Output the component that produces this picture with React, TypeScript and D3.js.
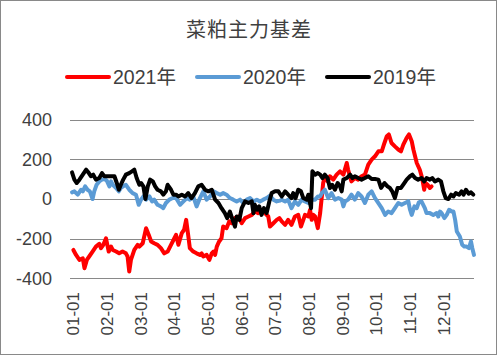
import React from "react";
import * as d3 from "d3";

const W = 497;
const H = 355;

const title = "菜粕主力基差";
const seriesNames = ["2021年", "2020年", "2019年"];
const seriesColors = ["#FF0000", "#5B9BD5", "#000000"];
const monthLabels = ["01-01", "02-01", "03-01", "04-01", "05-01", "06-01", "07-01", "08-01", "09-01", "10-01", "11-01", "12-01"];
const yTicks = [-400, -200, 0, 200, 400];

// [position in months since 01-01, basis value]
const s2021: [number, number][] = [
  [0.10, -257], [0.18, -282], [0.28, -307], [0.38, -299], [0.43, -349], [0.50, -307], [0.57, -290], [0.67, -265],
  [0.77, -240], [0.87, -226], [0.92, -248], [0.99, -231], [1.07, -198], [1.15, -265], [1.22, -240], [1.27, -257],
  [1.37, -265], [1.46, -274], [1.56, -265], [1.66, -274], [1.71, -290], [1.76, -366], [1.81, -307], [1.91, -257],
  [2.01, -231], [2.06, -240], [2.16, -223], [2.26, -147], [2.34, -181], [2.41, -214], [2.50, -223], [2.60, -231],
  [2.70, -248], [2.80, -274], [2.90, -265], [3.00, -231], [3.10, -198], [3.15, -181], [3.22, -231], [3.32, -172],
  [3.39, -155], [3.45, -105], [3.51, -181], [3.56, -248], [3.66, -265], [3.76, -274], [3.86, -282], [3.91, -274],
  [3.96, -290], [4.06, -282], [4.14, -307], [4.21, -274], [4.26, -265], [4.31, -282], [4.36, -240], [4.43, -214],
  [4.50, -198], [4.55, -139], [4.65, -147], [4.73, -113], [4.80, -122], [4.90, -96], [5.00, -88], [5.10, -122],
  [5.20, -96], [5.30, -88], [5.40, -80], [5.49, -63], [5.59, -71], [5.69, -54], [5.79, -71], [5.89, -88],
  [5.94, -139], [6.04, -122], [6.14, -105], [6.22, -96], [6.29, -113], [6.39, -130], [6.48, -105], [6.58, -130],
  [6.68, -88], [6.78, -80], [6.86, -139], [6.93, -105], [6.98, -80], [7.08, -88], [7.13, -54], [7.18, -105],
  [7.23, -80], [7.28, -88], [7.36, -147], [7.43, -71], [7.48, 13], [7.52, 81], [7.57, 115], [7.65, 89],
  [7.72, 115], [7.82, 98], [7.92, 123], [8.02, 140], [8.12, 123], [8.22, 182], [8.26, 148], [8.36, 89],
  [8.46, 106], [8.56, 98], [8.66, 115], [8.76, 123], [8.81, 148], [8.86, 174], [8.96, 199], [9.06, 216],
  [9.16, 241], [9.26, 241], [9.34, 283], [9.41, 317], [9.47, 326], [9.55, 283], [9.65, 266], [9.75, 250],
  [9.83, 241], [9.90, 275], [10.00, 309], [10.07, 326], [10.15, 292], [10.20, 250], [10.30, 182], [10.39, 148],
  [10.46, 106], [10.52, 47], [10.56, 81], [10.62, 72], [10.69, 56], [10.74, 64],
];

const s2020: [number, number][] = [
  [0.06, 34], [0.13, 39], [0.23, 22], [0.33, 47], [0.38, 39], [0.45, 64], [0.52, 47], [0.59, 39],
  [0.67, 0], [0.72, 39], [0.79, 72], [0.87, 89], [0.95, 98], [1.02, 101], [1.09, 94], [1.17, 64],
  [1.22, 89], [1.27, 72], [1.37, 56], [1.45, 39], [1.51, 56], [1.58, 64], [1.66, 72], [1.76, 47],
  [1.86, 30], [1.96, 22], [2.04, -29], [2.11, -3], [2.18, 13], [2.26, -3], [2.36, 13], [2.44, -12],
  [2.50, -3], [2.60, -29], [2.70, -37], [2.77, -46], [2.85, -20], [2.95, -3], [3.05, 5], [3.15, 5],
  [3.27, -29], [3.37, -12], [3.47, 5], [3.56, -3], [3.66, 13], [3.76, -37], [3.86, 5], [3.96, 39],
  [4.06, -3], [4.16, 13], [4.26, 39], [4.36, 30], [4.46, 22], [4.55, 30], [4.65, 22], [4.75, 5],
  [4.85, -3], [4.95, -12], [5.05, -3], [5.15, -20], [5.25, -3], [5.35, 5], [5.45, -12], [5.55, -3],
  [5.64, -12], [5.74, -3], [5.84, 5], [5.94, 17], [6.04, -3], [6.14, -12], [6.24, -8], [6.29, -3],
  [6.39, -12], [6.48, -3], [6.58, -46], [6.68, -12], [6.78, -29], [6.88, -3], [6.98, -12], [7.08, -20],
  [7.13, 5], [7.18, -3], [7.28, -3], [7.36, 13], [7.43, 13], [7.48, 30], [7.57, 47], [7.67, 5],
  [7.77, 30], [7.87, -3], [7.97, 5], [8.07, -3], [8.12, -37], [8.17, -12], [8.26, -3], [8.36, 22],
  [8.46, -3], [8.56, 30], [8.66, 13], [8.76, -20], [8.86, 22], [8.96, 39], [9.06, 5], [9.16, -20],
  [9.26, -46], [9.36, -80], [9.45, -63], [9.55, -71], [9.65, -46], [9.75, -20], [9.85, -29], [9.95, -20],
  [10.05, -12], [10.10, -54], [10.15, -80], [10.23, -37], [10.30, -46], [10.36, -17], [10.44, -12], [10.54, -46],
  [10.59, -71], [10.69, -71], [10.79, -80], [10.89, -71], [10.94, -88], [10.99, -63], [11.04, -71], [11.12, -96],
  [11.19, -80], [11.26, -54], [11.34, -63], [11.39, -63], [11.44, -105], [11.49, -164], [11.58, -189], [11.65, -231],
  [11.71, -240], [11.78, -240], [11.85, -248], [11.91, -214], [11.95, -248], [12.00, -282],
];

const s2019: [number, number][] = [
  [0.06, 135], [0.13, 98], [0.20, 81], [0.28, 98], [0.38, 123], [0.48, 148], [0.56, 131], [0.62, 115],
  [0.69, 123], [0.77, 98], [0.87, 106], [0.95, 131], [1.02, 115], [1.12, 115], [1.22, 115], [1.32, 115],
  [1.39, 81], [1.45, 47], [1.51, 72], [1.58, 98], [1.66, 123], [1.76, 131], [1.84, 140], [1.91, 148],
  [1.98, 106], [2.06, 72], [2.11, 81], [2.18, 64], [2.24, 0], [2.31, 64], [2.38, 98], [2.46, 89],
  [2.53, 64], [2.60, 47], [2.70, 39], [2.77, 22], [2.85, 39], [2.90, 72], [3.00, 47], [3.07, 22],
  [3.15, 22], [3.22, 13], [3.32, 22], [3.42, 13], [3.51, 30], [3.61, 5], [3.71, 30], [3.81, 64],
  [3.91, 72], [4.01, 47], [4.11, 39], [4.21, 47], [4.31, -3], [4.41, -20], [4.50, -46], [4.60, -71],
  [4.67, -96], [4.75, -63], [4.83, -105], [4.90, -139], [4.95, -88], [5.03, -105], [5.10, -46], [5.20, -12],
  [5.30, -20], [5.40, -12], [5.45, -71], [5.49, -29], [5.56, -54], [5.62, -37], [5.69, -80], [5.76, -46],
  [5.84, -71], [5.92, -12], [5.99, 30], [6.09, 39], [6.19, 39], [6.29, 13], [6.39, 39], [6.48, 22],
  [6.58, 5], [6.63, 30], [6.70, 5], [6.78, 47], [6.86, 39], [6.93, 5], [7.03, -3], [7.08, 22],
  [7.16, -46], [7.20, 140], [7.28, 123], [7.36, 131], [7.43, 123], [7.50, 106], [7.57, 123], [7.65, 106],
  [7.72, 56], [7.79, 72], [7.87, 47], [7.95, 81], [8.02, 64], [8.07, 39], [8.12, 98], [8.22, 106],
  [8.32, 123], [8.39, 106], [8.46, 115], [8.56, 106], [8.66, 98], [8.76, 106], [8.86, 115], [8.96, 101],
  [9.06, 101], [9.16, 98], [9.24, 56], [9.34, 81], [9.43, 64], [9.50, 56], [9.57, 39], [9.65, 5],
  [9.73, 56], [9.83, 56], [9.93, 81], [10.00, 98], [10.10, 115], [10.17, 123], [10.25, 106], [10.34, 98],
  [10.44, 106], [10.52, 89], [10.59, 106], [10.69, 98], [10.76, 106], [10.84, 89], [10.94, 98], [11.02, 89],
  [11.09, 39], [11.16, 5], [11.24, 0], [11.32, 22], [11.39, 13], [11.46, 30], [11.56, 22], [11.63, 39],
  [11.69, 22], [11.76, 47], [11.84, 27], [11.91, 34], [11.98, 22],
];

const allSeries = [s2021, s2020, s2019];

const FONT = "'Liberation Sans', 'Noto Sans CJK SC', sans-serif";

export default function App() {
  const x = d3.scaleLinear().domain([0, 12]).range([70, 474]);
  const y = d3.scaleLinear().domain([-400, 400]).range([278.3, 119.8]);
  const line = d3
    .line<[number, number]>()
    .x((d) => x(d[0]))
    .y((d) => y(d[1]))
    .curve(d3.curveLinear);

  const legendItems = [
    { lx: 67, tx: 113 },
    { lx: 197, tx: 243 },
    { lx: 327, tx: 373 },
  ];

  return (
    <svg
      width={W}
      height={H}
      style={{ position: "absolute", left: 0, top: 0, background: "#fff" }}
      fontFamily={FONT}
    >
      <rect x={0.5} y={0.5} width={W - 1} height={H - 1} fill="#fff" stroke="#898989" strokeWidth={1} />
      <text x={249} y={37} textAnchor="middle" fontSize={20} fill="#404040" fontFamily="'Noto Sans CJK SC', sans-serif" letterSpacing={1}>
        {title}
      </text>

      {seriesNames.map((name, i) => (
        <g key={name}>
          <line
            x1={legendItems[i].lx}
            x2={legendItems[i].lx + 42}
            y1={77}
            y2={77}
            stroke={seriesColors[i]}
            strokeWidth={4}
            strokeLinecap="round"
          />
          <text x={legendItems[i].tx} y={83.5} fontSize={19.5} fill="#404040">
            {name}
          </text>
        </g>
      ))}

      {yTicks.map((t) => (
        <g key={t}>
          <line x1={70} x2={474} y1={Math.round(y(t)) + 0.5} y2={Math.round(y(t)) + 0.5} stroke="#898989" strokeWidth={1} />
          <text x={52} y={y(t)} dy="0.35em" textAnchor="end" fontSize={18} fill="#404040">
            {t}
          </text>
        </g>
      ))}

      {monthLabels.map((m, i) => (
        <text
          key={m}
          transform={`translate(${x(i) + 3.5},292) rotate(-90)`}
          textAnchor="end"
          dy="0.35em"
          fontSize={17}
          fill="#404040"
        >
          {m}
        </text>
      ))}

      {allSeries.map((s, i) => (
        <path
          key={i}
          d={line(s) || ""}
          fill="none"
          stroke={seriesColors[i]}
          strokeWidth={4}
          strokeLinejoin="round"
          strokeLinecap="round"
        />
      ))}
    </svg>
  );
}
